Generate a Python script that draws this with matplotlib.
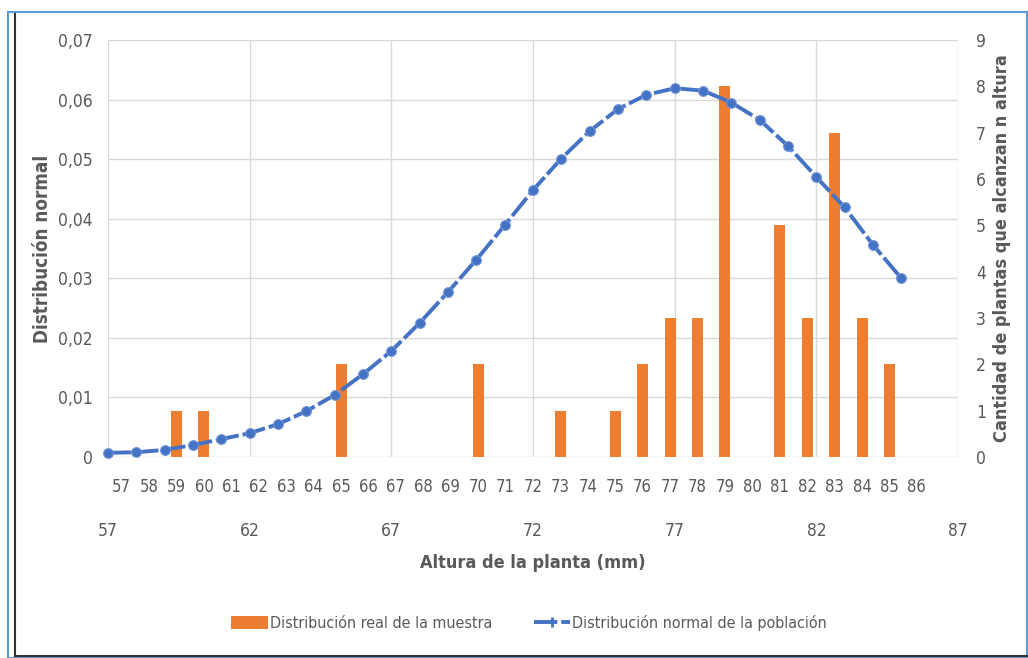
import matplotlib
matplotlib.use("Agg")
import matplotlib.pyplot as plt
from matplotlib.lines import Line2D
from matplotlib.patches import Patch, Rectangle
from matplotlib.ticker import FuncFormatter, MultipleLocator

plt.rcParams['font.family'] = ['DejaVu Sans']
plt.rcParams['font.stretch'] = 'condensed'

# alturas observadas (categorías) y cantidad de plantas en cada una
alturas = list(range(57, 87))
cantidades = [0, 0, 1, 1, 0, 0, 0, 0, 2, 0, 0, 0, 0, 2, 0,
              0, 1, 0, 1, 2, 3, 3, 8, 0, 5, 3, 7, 3, 2, 0]

# curva normal de la población
x_normal = list(range(57, 86))
y_normal = [0.0007, 0.0008, 0.0012, 0.0020, 0.0030, 0.0040, 0.0055, 0.0077,
            0.0104, 0.0139, 0.0178, 0.0225, 0.0277, 0.0331, 0.0389, 0.0448,
            0.0501, 0.0547, 0.0584, 0.0608, 0.0619, 0.0615, 0.0595, 0.0566,
            0.0522, 0.0470, 0.0419, 0.0356, 0.0300]

gris = '#595959'
naranja = '#ED7D31'
azul = '#4472C4'

W, H = 1028, 658
fig = plt.figure(figsize=(W / 100, H / 100), dpi=100)
pos = [108 / W, 1 - 457 / H, 850 / W, 417 / H]

# ejes de fondo: escala de la curva, rejilla y eje x numérico
ax = fig.add_axes(pos)
ax.set_xlim(57, 87)
ax.set_ylim(0, 0.07)
ax.set_xticks(range(57, 88, 5))
ax.yaxis.set_major_locator(MultipleLocator(0.01))
ax.yaxis.set_major_formatter(FuncFormatter(lambda v, p: '0' if abs(v) < 1e-9 else f'{v:.2f}'.replace('.', ',')))
ax.grid(True, color='#D9D9D9', linewidth=1)
for s in ax.spines.values():
    s.set_visible(False)
ax.tick_params(axis='both', length=0, colors=gris, labelsize=12.5)
ax.tick_params(axis='x', pad=47)
ax.tick_params(axis='y', pad=11)
ax.set_ylabel('Distribución normal', fontsize=13.5, fontweight='bold', color=gris, labelpad=4)
ax.set_xlabel('Altura de la planta (mm)', fontsize=13, fontweight='bold', color=gris, labelpad=10)

# barras sobre el eje de categorías
axb = fig.add_axes(pos)
axb.patch.set_visible(False)
idx = list(range(len(alturas)))
axb.bar(idx, cantidades, width=0.4, color=naranja, zorder=2)
axb.set_xlim(-0.5, len(alturas) + 0.5)
axb.set_ylim(0, 9)
axb.set_xticks(idx)
axb.set_xticklabels([str(a) for a in alturas])
axb.yaxis.tick_right()
axb.yaxis.set_label_position('right')
axb.yaxis.set_major_locator(MultipleLocator(1))
for s in axb.spines.values():
    s.set_visible(False)
axb.tick_params(axis='both', length=0, colors=gris, labelsize=12.5)
axb.tick_params(axis='x', pad=15, labelsize=12)
axb.tick_params(axis='y', pad=13)
axb.set_ylabel('Cantidad de plantas que alcanzan n altura', fontsize=13,
               fontweight='bold', color=gris, labelpad=5)

# curva normal por encima de las barras
axl = fig.add_axes(pos, sharex=ax, sharey=ax)
axl.axis('off')
axl.plot(x_normal, y_normal, color=azul, linewidth=2.8, dashes=(6, 1.0),
         marker='o', markersize=7, markerfacecolor=azul, markeredgecolor='#6F93D6',
         markeredgewidth=0.8, clip_on=False)

# leyenda
handles = [Patch(facecolor=naranja, edgecolor='none'),
           Line2D([], [], color=azul, linewidth=2.8, dashes=(6, 1.0), marker='|',
                  markersize=7, markeredgewidth=2)]
fig.legend(handles, ['Distribución real de la muestra', 'Distribución normal de la población'],
           loc='center', bbox_to_anchor=(529 / W, 1 - 623 / H), ncol=2, frameon=False,
           fontsize=11.5, labelcolor=gris, handlelength=2.3, handleheight=0.8,
           handletextpad=0.1, columnspacing=2.6)

# marco exterior
fig.add_artist(Rectangle((8 / W, 0), 1019 / W, 1 - 12 / H, transform=fig.transFigure,
                         fill=False, edgecolor='#5B9BD5', linewidth=1.5))
fig.add_artist(Line2D([15 / W, 15 / W], [2 / H, 1 - 14 / H], transform=fig.transFigure,
                      color='#333333', linewidth=1.5))
fig.add_artist(Line2D([15 / W, 1], [2 / H, 2 / H], transform=fig.transFigure,
                      color='#333333', linewidth=1.5))

fig.savefig('out.png', dpi=100, facecolor='white')
